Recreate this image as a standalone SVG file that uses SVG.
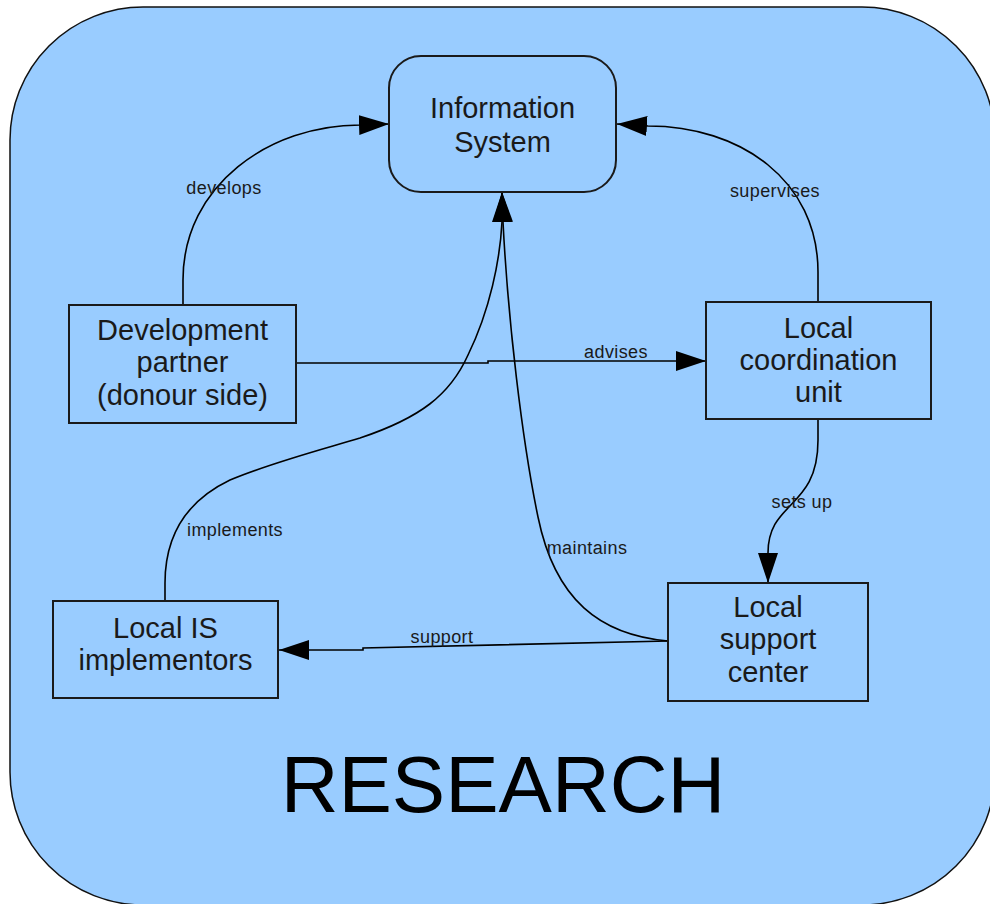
<svg xmlns="http://www.w3.org/2000/svg" width="990" height="904" viewBox="0 0 990 904">
<style>
.bg{fill:#99CCFF;stroke:#111;stroke-width:1.5}
.node{fill:#99CCFF;stroke:#1a1a1a;stroke-width:2}
.nt{font-family:"Liberation Sans",Arial,sans-serif;font-size:29px;fill:#1a1a1a;text-anchor:middle}
.lbl{font-family:"Liberation Sans",Arial,sans-serif;font-size:18px;letter-spacing:0.4px;fill:#1a1a1a;text-anchor:middle}
.edge{fill:none;stroke:#000;stroke-width:1.6}
.big{font-family:"Liberation Sans",Arial,sans-serif;font-size:80px;fill:#000;text-anchor:middle}
</style>
<defs>
<marker id="arr" markerUnits="userSpaceOnUse" markerWidth="32" markerHeight="22" refX="30" refY="10" orient="auto">
<path d="M0,0 L30,10 L0,20 Z" fill="#000"/>
</marker>
</defs>
<rect class="bg" x="10" y="7" width="985" height="898" rx="133" ry="133"/>
<g id="connectors">
<path id="e-develops" class="edge" d="M183,305 L183,280 C183,185 270,125 360,125 L389,124" marker-end="url(#arr)"/>
<path id="e-supervises" class="edge" d="M818,302 L818,272 C818,180 740,126 648,126 L617,124" marker-end="url(#arr)"/>
<path id="e-advises" class="edge" d="M296,363 L488,363 L488,361 L706,361" marker-end="url(#arr)"/>
<path id="e-implements" class="edge" d="M165,601 L165,583 C165,540 182,503 230,480 C270,463 320,450 360,438 C420,418 450,395 468,355 C490,310 500,260 502,222 L502,192" marker-end="url(#arr)"/>
<path id="e-maintains" class="edge" d="M668,641 C600,635 555,600 538,517 C522,440 508,320 503,222 L502,192" marker-end="url(#arr)"/>
<path id="e-setsup" class="edge" d="M818,419 L818,440 C818,510 768,500 768,553 L768,583" marker-end="url(#arr)"/>
<path id="e-support" class="edge" d="M668,641 L363,648 L363,650 L279,650" marker-end="url(#arr)"/>
<text class="lbl" x="224" y="194">develops</text>
<text class="lbl" x="775" y="197">supervises</text>
<text class="lbl" x="616" y="358">advises</text>
<text class="lbl" x="235" y="536">implements</text>
<text class="lbl" x="587" y="554">maintains</text>
<text class="lbl" x="802" y="508">sets up</text>
<text class="lbl" x="442" y="643">support</text>
</g>
<g id="n-infosystem">
<rect class="node" x="389" y="56" width="227" height="136" rx="32" ry="32"/>
<text class="nt" x="502.5" y="118">Information</text>
<text class="nt" x="502.5" y="152">System</text>
</g>
<g id="n-devpartner">
<rect class="node" x="69" y="305" width="227" height="118"/>
<text class="nt" x="182.5" y="340">Development</text>
<text class="nt" x="182.5" y="372">partner</text>
<text class="nt" x="182.5" y="405">(donour side)</text>
</g>
<g id="n-coordination">
<rect class="node" x="706" y="302" width="225" height="117"/>
<text class="nt" x="818.5" y="338">Local</text>
<text class="nt" x="818.5" y="370">coordination</text>
<text class="nt" x="818.5" y="402">unit</text>
</g>
<g id="n-support">
<rect class="node" x="668" y="583" width="200" height="118"/>
<text class="nt" x="768" y="617">Local</text>
<text class="nt" x="768" y="649">support</text>
<text class="nt" x="768" y="682">center</text>
</g>
<g id="n-implementors">
<rect class="node" x="53" y="601" width="225" height="97"/>
<text class="nt" x="165.5" y="638">Local IS</text>
<text class="nt" x="165.5" y="670">implementors</text>
</g>
<text class="big" x="503" y="812">RESEARCH</text>
</svg>
